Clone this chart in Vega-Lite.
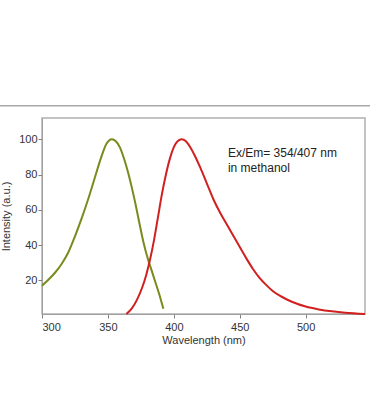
{
  "$schema": "https://vega.github.io/schema/vega-lite/v6.json",
  "width": 323,
  "height": 196,
  "autosize": "none",
  "padding": {"left": 42, "top": 118, "right": 5, "bottom": 102},
  "background": "white",
  "config": {
    "font": "Liberation Sans",
    "view": {"stroke": "#b0b0b0", "strokeWidth": 1.5},
    "axis": {
      "domainColor": "#a0a0a0",
      "tickColor": "#808080",
      "labelColor": "#333333",
      "titleColor": "#333333",
      "labelFontSize": 11,
      "titleFontSize": 11,
      "titleFontWeight": "normal",
      "grid": false,
      "tickSize": 4
    }
  },
  "layer": [
    {
      "data": {"values": [
        {"x": 268, "xe": 549.4, "y": 119}
      ]},
      "mark": {"type": "rule", "clip": false, "color": "#a8a8a8", "strokeWidth": 1.5},
      "encoding": {
        "x": {"field": "x", "type": "quantitative", "scale": {"domain": [300, 545], "nice": false, "zero": false}, "title": "Wavelength (nm)"},
        "x2": {"field": "xe"},
        "y": {"field": "y", "type": "quantitative", "scale": {"domain": [1, 112], "nice": false, "zero": false}, "title": "Intensity (a.u.)"}
      }
    },
    {
      "data": {"values": [
        {"s": "Ex", "x": 300, "y": 17}, {"s": "Ex", "x": 305, "y": 20.5}, {"s": "Ex", "x": 310, "y": 24.5},
        {"s": "Ex", "x": 315, "y": 29.5}, {"s": "Ex", "x": 320, "y": 36}, {"s": "Ex", "x": 325, "y": 45},
        {"s": "Ex", "x": 330, "y": 55}, {"s": "Ex", "x": 335, "y": 66}, {"s": "Ex", "x": 340, "y": 78},
        {"s": "Ex", "x": 345, "y": 90}, {"s": "Ex", "x": 349, "y": 97.5}, {"s": "Ex", "x": 353, "y": 100},
        {"s": "Ex", "x": 356, "y": 98.8}, {"s": "Ex", "x": 359, "y": 95.5}, {"s": "Ex", "x": 362, "y": 89.5},
        {"s": "Ex", "x": 365, "y": 82}, {"s": "Ex", "x": 368, "y": 73}, {"s": "Ex", "x": 371, "y": 63},
        {"s": "Ex", "x": 374, "y": 52}, {"s": "Ex", "x": 377, "y": 41.5}, {"s": "Ex", "x": 380, "y": 33},
        {"s": "Ex", "x": 383, "y": 26}, {"s": "Ex", "x": 386, "y": 19}, {"s": "Ex", "x": 389, "y": 12},
        {"s": "Ex", "x": 392, "y": 4},
        {"s": "Em", "x": 364, "y": 1}, {"s": "Em", "x": 368, "y": 4}, {"s": "Em", "x": 372, "y": 9},
        {"s": "Em", "x": 376, "y": 16}, {"s": "Em", "x": 379, "y": 23}, {"s": "Em", "x": 382, "y": 32},
        {"s": "Em", "x": 385, "y": 43}, {"s": "Em", "x": 388, "y": 56}, {"s": "Em", "x": 391, "y": 69},
        {"s": "Em", "x": 394, "y": 80}, {"s": "Em", "x": 397, "y": 89}, {"s": "Em", "x": 400, "y": 95.5},
        {"s": "Em", "x": 403, "y": 99}, {"s": "Em", "x": 406, "y": 100}, {"s": "Em", "x": 409, "y": 99},
        {"s": "Em", "x": 412, "y": 96}, {"s": "Em", "x": 416, "y": 90.5}, {"s": "Em", "x": 420, "y": 84},
        {"s": "Em", "x": 425, "y": 75}, {"s": "Em", "x": 430, "y": 66}, {"s": "Em", "x": 435, "y": 58.5},
        {"s": "Em", "x": 440, "y": 52}, {"s": "Em", "x": 445, "y": 45.5}, {"s": "Em", "x": 450, "y": 39},
        {"s": "Em", "x": 455, "y": 32.5}, {"s": "Em", "x": 460, "y": 26.5}, {"s": "Em", "x": 465, "y": 21.5},
        {"s": "Em", "x": 470, "y": 17.5}, {"s": "Em", "x": 475, "y": 14}, {"s": "Em", "x": 480, "y": 11.5},
        {"s": "Em", "x": 485, "y": 9.5}, {"s": "Em", "x": 490, "y": 7.8}, {"s": "Em", "x": 500, "y": 5.2},
        {"s": "Em", "x": 510, "y": 3.6}, {"s": "Em", "x": 520, "y": 2.5}, {"s": "Em", "x": 530, "y": 1.7},
        {"s": "Em", "x": 545, "y": 1}
      ]},
      "mark": {"type": "line", "interpolate": "monotone", "strokeWidth": 2},
      "encoding": {
        "x": {"field": "x", "type": "quantitative", "scale": {"domain": [300, 545], "nice": false, "zero": false},
              "axis": {"values": [300, 350, 400, 450, 500], "labelPadding": 3, "titlePadding": 2}, "title": "Wavelength (nm)"},
        "y": {"field": "y", "type": "quantitative", "scale": {"domain": [1, 112], "nice": false, "zero": false},
              "axis": {"values": [20, 40, 60, 80, 100], "labelPadding": 1, "titlePadding": 7}, "title": "Intensity (a.u.)"},
        "color": {"field": "s", "type": "nominal", "scale": {"domain": ["Ex", "Em"], "range": ["#7a8a1c", "#d02020"]}, "legend": null},
        "detail": {"field": "s"}
      }
    },
    {
      "data": {"values": [
        {"x": 441, "y": 90.1, "label": "Ex/Em= 354/407 nm"},
        {"x": 441, "y": 81.3, "label": "in methanol"}
      ]},
      "mark": {"type": "text", "align": "left", "baseline": "alphabetic", "fontSize": 12, "color": "#222222"},
      "encoding": {
        "x": {"field": "x", "type": "quantitative", "scale": {"domain": [300, 545], "nice": false, "zero": false}, "title": "Wavelength (nm)"},
        "y": {"field": "y", "type": "quantitative", "scale": {"domain": [1, 112], "nice": false, "zero": false}, "title": "Intensity (a.u.)"},
        "text": {"field": "label"}
      }
    }
  ]
}
